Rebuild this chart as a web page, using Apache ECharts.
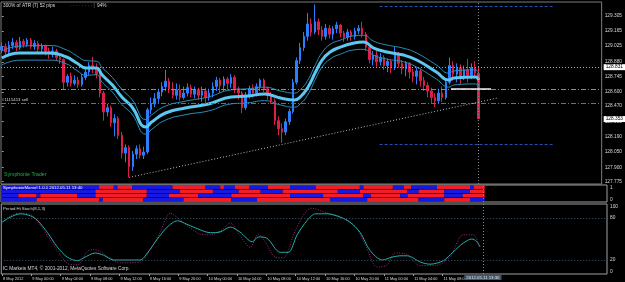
<!DOCTYPE html>
<html><head><meta charset="utf-8">
<script src="https://cdn.jsdelivr.net/npm/echarts@6/dist/echarts.min.js"></script>
<style>html,body{margin:0;padding:0;background:#000;}#c{width:625px;height:282px;}</style>
</head><body><div id="c"></div>
<script>
// ---- data ----
const barHours = 0.5; // M30 bars, hour 0 = 8 May 20:00
// [open, close, low, high]
const candles = [
[128.99,129.02,128.96,129.06],[129.02,128.97,128.94,129.05],[128.97,129.03,128.95,129.07],[129.03,129.06,129.00,129.10],
[129.06,129.01,128.98,129.08],[129.01,129.07,128.99,129.11],[129.07,129.04,129.01,129.09],[129.04,129.08,129.02,129.10],
[129.08,129.02,129.00,129.10],[129.02,129.05,128.99,129.08],[129.05,129.00,128.97,129.07],[129.00,129.03,128.96,129.05],
[129.03,128.98,128.94,129.04],[128.98,128.95,128.91,129.01],[128.95,128.98,128.92,129.02],[128.98,128.92,128.89,129.00],
[128.92,128.90,128.86,128.95],[128.90,128.69,128.62,128.91],[128.69,128.745,128.65,128.765],[128.745,128.68,128.65,128.78],
[128.68,128.71,128.66,128.755],[128.71,128.67,128.64,128.74],[128.67,128.735,128.65,128.765],[128.735,128.785,128.71,128.815],
[128.785,128.845,128.755,128.875],[128.845,128.815,128.775,128.925],[128.815,128.765,128.725,128.865],[128.765,128.59,128.55,128.785],
[128.59,128.415,128.335,128.61],[128.415,128.455,128.375,128.49],[128.455,128.315,128.28,128.475],[128.315,128.355,128.19,128.395],
[128.355,128.20,128.165,128.375],[128.20,128.035,127.985,128.23],[128.035,128.085,127.95,128.115],[128.085,127.91,127.81,128.105],
[127.91,128.025,127.87,128.055],[128.025,128.075,127.98,128.105],[128.075,128.015,127.985,128.115],[128.015,128.045,127.98,128.095],
[128.045,128.435,128.025,128.455],[128.435,128.49,128.395,128.55],[128.49,128.54,128.46,128.59],[128.54,128.60,128.50,128.63],
[128.60,128.65,128.56,128.69],[128.65,128.70,128.61,128.805],[128.70,128.63,128.59,128.73],[128.63,128.57,128.54,128.69],
[128.57,128.62,128.53,128.68],[128.62,128.55,128.52,128.67],[128.55,128.59,128.53,128.65],[128.59,128.64,128.56,128.68],
[128.64,128.58,128.55,128.67],[128.58,128.62,128.54,128.65],[128.62,128.57,128.53,128.64],[128.57,128.61,128.51,128.65],
[128.61,128.55,128.49,128.64],[128.55,128.59,128.52,128.63],[128.59,128.65,128.55,128.69],[128.65,128.71,128.61,128.74],
[128.71,128.66,128.59,128.73],[128.66,128.72,128.61,128.745],[128.72,128.68,128.62,128.74],[128.68,128.735,128.64,128.765],
[128.735,128.63,128.59,128.755],[128.63,128.59,128.53,128.65],[128.59,128.455,128.405,128.61],[128.455,128.57,128.435,128.60],
[128.57,128.63,128.54,128.66],[128.63,128.59,128.55,128.67],[128.59,128.65,128.56,128.68],[128.65,128.71,128.61,128.725],
[128.71,128.63,128.60,128.725],[128.63,128.57,128.53,128.65],[128.57,128.52,128.49,128.60],[128.52,128.335,128.295,128.54],
[128.335,128.26,128.20,128.375],[128.26,128.23,128.13,128.31],[128.23,128.325,128.20,128.355],[128.325,128.42,128.295,128.445],
[128.42,128.69,128.40,128.72],[128.69,128.89,128.67,128.92],[128.89,129.01,128.86,129.055],[129.01,129.115,128.98,129.155],
[129.115,129.23,129.075,129.33],[129.23,129.155,129.115,129.28],[129.155,129.25,129.135,129.41],[129.25,129.175,129.125,129.28],
[129.175,129.115,129.075,129.21],[129.115,129.19,129.085,129.23],[129.19,129.135,129.095,129.22],[129.135,129.185,129.085,129.21],
[129.185,129.22,129.145,129.25],[129.22,129.145,129.105,129.23],[129.145,129.105,129.065,129.165],[129.105,129.155,129.075,129.185],
[129.155,129.115,129.075,129.175],[129.115,129.165,129.085,129.195],[129.165,129.19,129.135,129.22],[129.19,129.135,129.105,129.25],
[129.135,129.015,128.98,129.155],[129.015,128.90,128.865,129.035],[128.90,128.94,128.845,128.98],[128.94,128.88,128.835,128.99],
[128.88,128.92,128.845,128.96],[128.92,128.845,128.805,128.94],[128.845,128.885,128.785,128.91],[128.885,128.825,128.775,128.90],
[128.825,128.95,128.805,129.02],[128.95,128.865,128.825,128.97],[128.865,128.815,128.765,128.895],[128.815,128.865,128.745,128.885],
[128.865,128.785,128.725,128.875],[128.785,128.745,128.69,128.815],[128.745,128.795,128.67,128.825],[128.795,128.705,128.65,128.815],
[128.705,128.66,128.61,128.74],[128.66,128.61,128.55,128.69],[128.61,128.55,128.50,128.64],[128.55,128.52,128.46,128.59],
[128.52,128.59,128.49,128.63],[128.59,128.55,128.51,128.65],[128.55,128.69,128.53,128.72],[128.69,128.845,128.67,128.92],
[128.845,128.765,128.705,128.885],[128.765,128.825,128.69,128.865],[128.825,128.745,128.67,128.855],[128.745,128.805,128.71,128.845],
[128.805,128.755,128.69,128.905],[128.755,128.825,128.72,128.865],[128.825,128.775,128.73,128.885],[128.775,128.353,128.35,128.835]
];
// moving average channel (hours, price)
const maHours = [0,2.5,6.6,8.9,10.3,11.6,13.0,13.8,15.2,16.5,17.9,19.8,20.6,22.5,25.2,28.4,31.5,33.8,36.1,38.3,40.2,41.0,42.0,43.1,44.0,45.1,46.5,48.4,49.7,51.1,52.9,55.2,57.0,59.7,61.4,62.1,65.1,65.5];
const maMid = [128.915,128.961,128.961,128.924,128.868,128.822,128.822,128.757,128.665,128.554,128.461,128.276,128.322,128.406,128.452,128.489,128.554,128.563,128.582,128.545,128.526,128.554,128.637,128.785,128.896,128.970,129.016,129.053,129.062,129.007,128.970,128.942,128.896,128.785,128.711,128.730,128.739,128.711];
const maUpper = [128.98,129.025,129.03,128.99,128.935,128.89,128.885,128.825,128.735,128.625,128.53,128.345,128.39,128.47,128.515,128.555,128.62,128.63,128.645,128.61,128.59,128.62,128.705,128.855,128.965,129.04,129.08,129.12,129.125,129.07,129.035,129.005,128.96,128.85,128.775,128.795,128.805,128.775];
const maLower = [128.85,128.895,128.895,128.86,128.80,128.755,128.76,128.69,128.60,128.485,128.395,128.21,128.255,128.34,128.39,128.425,128.49,128.50,128.52,128.48,128.46,128.49,128.57,128.72,128.83,128.905,128.95,128.99,128.995,128.94,128.905,128.88,128.83,128.72,128.645,128.665,128.675,128.645];
// trend line (hours, price)
const trendHours = [17.5, 68.1];
const trendPrices = [127.81, 128.545];
// horizontal levels
const askLevel = 128.831, bidLevel = 128.353;
const entryLevel = 128.628, entryHours = [61.7, 67.2];
const sellLevel = 128.498, sellText = '#1115413 sell';
const tpLevel = 129.396, slLevel = 128.119, tpslHours = [51.9, 75.7];
const cursorHour = 65.5, cursorText = '2012.05.11 13:30';
// Symphonie Marvel rows: [colour, start bar]
const marvelRows = [
 [['B',0],['R',27],['B',31],['R',32],['B',36],['R',47],['B',56],['R',60],['B',61],['R',64],['B',68],['R',73],['B',79],['R',86],['B',98],['R',99],['B',107],['R',110],['B',112],['R',119],['B',128],['R',129]],
 [['B',0],['R',26],['B',40],['R',49],['B',58],['R',65],['B',71],['R',77],['B',92],['R',98],['B',111],['R',114],['B',121],['R',128]],
 [['B',0],['R',5],['B',10],['R',11],['B',21],['R',26],['B',40],['R',46],['B',54],['R',63],['B',79],['R',88],['B',99],['R',101],['B',109],['R',111],['B',121],['R',126]],
 [['B',0],['R',10],['B',27],['R',28],['B',39],['R',50],['B',63],['R',70],['B',90],['R',100],['B',114],['R',121],['B',128]]
];
// stochastic
const stochHours = [0,1.1,2.5,3.9,4.8,6.2,7.5,8.9,10.3,11.1,12.7,13.8,15.2,18.8,19.8,21.1,22.5,23.9,25.2,27.0,28.4,29.7,31.1,32.4,34.1,34.9,36.1,37.9,39.0,40.2,41.6,42.7,44.3,46.1,47.4,48.8,50.1,51.8,53.1,54.2,55.2,57.0,58.3,60.1,61.4,62.8,64.0,64.6,65.1];
const stochMain = [74,81,86,83,77,59,39,24,19,23,30,27,20,20,30,49,67,76,71,63,59,60,67,60,46,53,51,31,31,56,77,86,86,81,74,59,34,20,24,26,26,17,14,19,31,44,50,47,39];
const signalHours = [0,1.1,2.5,3.9,5.2,6.6,7.9,8.9,10.3,11.6,12.4,13.4,14.7,16.1,18.8,20.2,21.6,22.9,24.3,25.6,27.0,28.4,29.7,31.1,32.4,33.8,34.9,35.9,37.2,38.3,39.9,41.3,42.2,44.0,46.1,48.1,49.5,51.1,52.5,53.5,54.9,57.0,59.0,61.0,62.8,64.2,65.0];
const stochSignal = [72,83,87,85,70,48,28,15,13,32,35,32,23,16,17,35,61,87,77,66,57,56,61,73,55,38,57,45,24,23,61,88,94,88,82,68,41,10,13,30,29,12,12,24,56,56,39];
const stochLevels = [80, 20];
// axes
const priceTicks = [129.305,129.165,129.025,128.880,128.745,128.600,128.470,128.330,128.190,128.050,127.900,127.775];
const timeTicks = [0,4,8,12,16,20,24,28,32,36,40,44,48,52,56,60];
const timeLabels = ['8 May 2012','9 May 00:00','9 May 04:00','9 May 08:00','9 May 12:00','9 May 16:00','9 May 20:00','10 May 00:00','10 May 04:00','10 May 08:00','10 May 12:00','10 May 16:00','10 May 20:00','11 May 00:00','11 May 04:00','11 May 08:00'];
const stochTicks = [0,20,80,100];
const marvelTicks = [0,1];

// ---- build ----
const FONT = 'Liberation Sans';
const FS = 4.8;
const FS_TIME = 3.9;
const TXT = '#d8d8d8';
const candleData = candles.map((c,i)=>[i*barHours, c[0], c[1], c[2], c[3]]);
const pairs = (xs, ys) => xs.map((x,i)=>[x, ys[i]]);
const marvelData = [];
marvelRows.forEach((row, r) => {
  row.forEach((seg, k) => {
    const end = k+1 < row.length ? row[k+1][1] : candles.length;
    marvelData.push([seg[1]*barHours - barHours/2, end*barHours - barHours/2, r, seg[0]==='R'?1:0]);
  });
});
const xBase = {type:'value', min:-0.1, max:82.4, show:false};
const vLine = () => ({xAxis: cursorHour, label:{show:false}, lineStyle:{color:'#8a8a8a', type:[1,2], width:1}});
const boxLabel = (txt) => ({show:true, position:'end', formatter:txt, color:'#000', backgroundColor:'#ffffff', padding:[0.5,2], fontSize:FS, fontFamily:FONT, distance:2});

const chart = echarts.init(document.getElementById('c'), null, {renderer:'canvas'});
chart.setOption({
  backgroundColor:'#000',
  animation:false,
  textStyle:{fontFamily:FONT},
  grid:[
    {left:1, right:18, top:2, height:182, show:true, borderColor:'#7d7d7d', borderWidth:1},
    {left:1, right:18, top:185, height:17, show:true, borderColor:'#a0a0a0', borderWidth:1},
    {left:1, right:18, top:204, height:70, show:true, borderColor:'#a0a0a0', borderWidth:1}
  ],
  xAxis:[
    Object.assign({gridIndex:0}, xBase),
    Object.assign({gridIndex:1}, xBase),
    {gridIndex:2, type:'value', min:-0.1, max:82.4, show:true,
     axisLine:{show:false}, splitLine:{show:false},
     axisTick:{show:true, customValues:timeTicks, length:2, lineStyle:{color:'#9a9a9a'}},
     axisLabel:{customValues:timeTicks, formatter:v=>timeLabels[timeTicks.indexOf(v)], align:'left',
       color:TXT, fontSize:FS_TIME, fontFamily:FONT, margin:2.5, padding:[0,0,0,1]}}
  ],
  yAxis:[
    {gridIndex:0, type:'value', position:'right', min:127.749, max:129.433, splitLine:{show:false},
     axisLine:{show:false}, axisTick:{show:true, customValues:priceTicks, length:2, lineStyle:{color:'#9a9a9a'}},
     axisLabel:{customValues:priceTicks, formatter:v=>v.toFixed(3), color:TXT, fontSize:FS, fontFamily:FONT, margin:3}},
    {gridIndex:1, type:'value', position:'right', min:0, max:1, splitLine:{show:false}, axisLine:{show:false},
     axisTick:{show:false},
     axisLabel:{customValues:marvelTicks, color:TXT, fontSize:FS, fontFamily:FONT, margin:3,
       verticalAlignMaxLabel:'top', verticalAlignMinLabel:'bottom'}},
    {gridIndex:2, type:'value', position:'right', min:0, max:100, splitLine:{show:false}, axisLine:{show:false},
     axisTick:{show:false},
     axisLabel:{customValues:stochTicks, color:TXT, fontSize:FS, fontFamily:FONT, margin:3,
       verticalAlignMaxLabel:'top', verticalAlignMinLabel:'bottom'}}
  ],
  graphic:[
    {type:'text', left:3, top:3, style:{text:'300% of ATR (7) 52 pips', fill:TXT, fontSize:FS, fontFamily:FONT}},
    {type:'text', left:70, top:3, style:{text:'· · · · · · · · |', fill:'#8a8a8a', fontSize:FS, fontFamily:FONT}},
    {type:'text', left:97, top:3, style:{text:'94%', fill:TXT, fontSize:FS, fontFamily:FONT}},
    {type:'text', left:4, top:172, style:{text:'Symphonie Trader', fill:'#22b04a', fontSize:5.2, fontFamily:FONT}},
    {type:'text', left:3, top:185.5, z:100, style:{text:'SymphonieMarvel 1.0.1 2012.05.11 13:40', fill:'#ffffff', fontSize:4.3, fontFamily:FONT}},
    {type:'text', left:3, top:207, style:{text:'Period Hi Stoch(8,1,3)', fill:TXT, fontSize:4.3, fontFamily:FONT}},
    {type:'text', left:3, top:266, style:{text:'IC Markets MT4, © 2001-2012, MetaQuotes Software Corp.', fill:TXT, fontSize:FS, fontFamily:FONT}}
  ],
  series:[
    {type:'candlestick', xAxisIndex:0, yAxisIndex:0, data:candleData, encode:{x:0, y:[1,2,3,4]}, barWidth:2,
     itemStyle:{color:'#2a7dff', color0:'#dc1e4a', borderColor:'#2a7dff', borderColor0:'#dc1e4a', borderWidth:1},
     markLine:{silent:true, symbol:['none','none'], animation:false, data:[
       {yAxis:askLevel, lineStyle:{color:'#a8a8a8', type:[1,2], width:1}, label:boxLabel(askLevel.toFixed(3))},
       {yAxis:bidLevel, lineStyle:{color:'rgba(0,0,0,0)', width:1}, label:boxLabel(bidLevel.toFixed(3))},
       {yAxis:entryLevel, lineStyle:{color:'#8c8c8c', type:[5,2,1,2], width:1}, label:{show:false}},
       {yAxis:sellLevel, lineStyle:{color:'#2e9a36', type:[5,2,1,2], width:1},
        label:{show:true, position:'insideStartTop', formatter:sellText, color:TXT, fontSize:4.3, fontFamily:FONT, distance:1}},
       [{coord:[tpslHours[0], tpLevel]},{coord:[tpslHours[1], tpLevel], lineStyle:{color:'#2050b0', type:[3,2], width:1}, label:{show:false}}],
       [{coord:[tpslHours[0], slLevel]},{coord:[tpslHours[1], slLevel], lineStyle:{color:'#2050b0', type:[3,2], width:1}, label:{show:false}}],
       vLine()
     ]}},
    {type:'line', xAxisIndex:0, yAxisIndex:0, data:pairs(maHours, maUpper), smooth:0.5, symbol:'none', lineStyle:{color:'#2a90b8', width:1}, z:3},
    {type:'line', xAxisIndex:0, yAxisIndex:0, data:pairs(maHours, maLower), smooth:0.5, symbol:'none', lineStyle:{color:'#2a90b8', width:1}, z:3},
    {type:'line', xAxisIndex:0, yAxisIndex:0, data:pairs(maHours, maMid), smooth:0.5, symbol:'none', lineStyle:{color:'#5cc8f0', width:3}, z:4},
    {type:'line', xAxisIndex:0, yAxisIndex:0, data:pairs(trendHours, trendPrices), symbol:'none', lineStyle:{color:'#bdbdbd', type:[1,2], width:1}, z:5},
    {type:'line', xAxisIndex:0, yAxisIndex:0, data:pairs(entryHours, [entryLevel, entryLevel]), symbol:'none', lineStyle:{color:'#f0f0f0', width:1.5}, z:5},
    {type:'custom', xAxisIndex:1, yAxisIndex:1, data:marvelData, clip:true,
     renderItem:(params, api)=>{
       const r = api.value(2);
       const p0 = api.coord([api.value(0), 1 - r*0.25]);
       const p1 = api.coord([api.value(1), 1 - (r+1)*0.25]);
       return {type:'rect', shape:{x:p0[0], y:p0[1]+0.3, width:p1[0]-p0[0], height:p1[1]-p0[1]-0.6},
         style:{fill: api.value(3)===1 ? '#f01e28' : '#1818e0'}};
     },
     markLine:{silent:true, symbol:['none','none'], animation:false, data:[vLine()]}},
    {type:'line', xAxisIndex:2, yAxisIndex:2, data:pairs(signalHours, stochSignal), smooth:0.3, symbol:'none', lineStyle:{color:'#a0287a', type:[1,1.5], width:1}},
    {type:'line', xAxisIndex:2, yAxisIndex:2, data:pairs(stochHours, stochMain), smooth:0.3, symbol:'none', lineStyle:{color:'#20b2aa', width:1},
     markLine:{silent:true, symbol:['none','none'], animation:false, data:[
       {yAxis:stochLevels[0], lineStyle:{color:'#3c5a6e', type:[1,2], width:1}, label:{show:false}},
       {yAxis:stochLevels[1], lineStyle:{color:'#3c5a6e', type:[1,2], width:1}, label:{show:false}},
       {xAxis:cursorHour, lineStyle:{color:'#8a8a8a', type:[1,2], width:1},
        label:{show:true, position:'start', formatter:cursorText, color:'#e8e8e8', backgroundColor:'#3a5670', padding:[0.5,2], fontSize:4.3, fontFamily:FONT, distance:1}}
     ]}}
  ]
});
</script></body></html>
